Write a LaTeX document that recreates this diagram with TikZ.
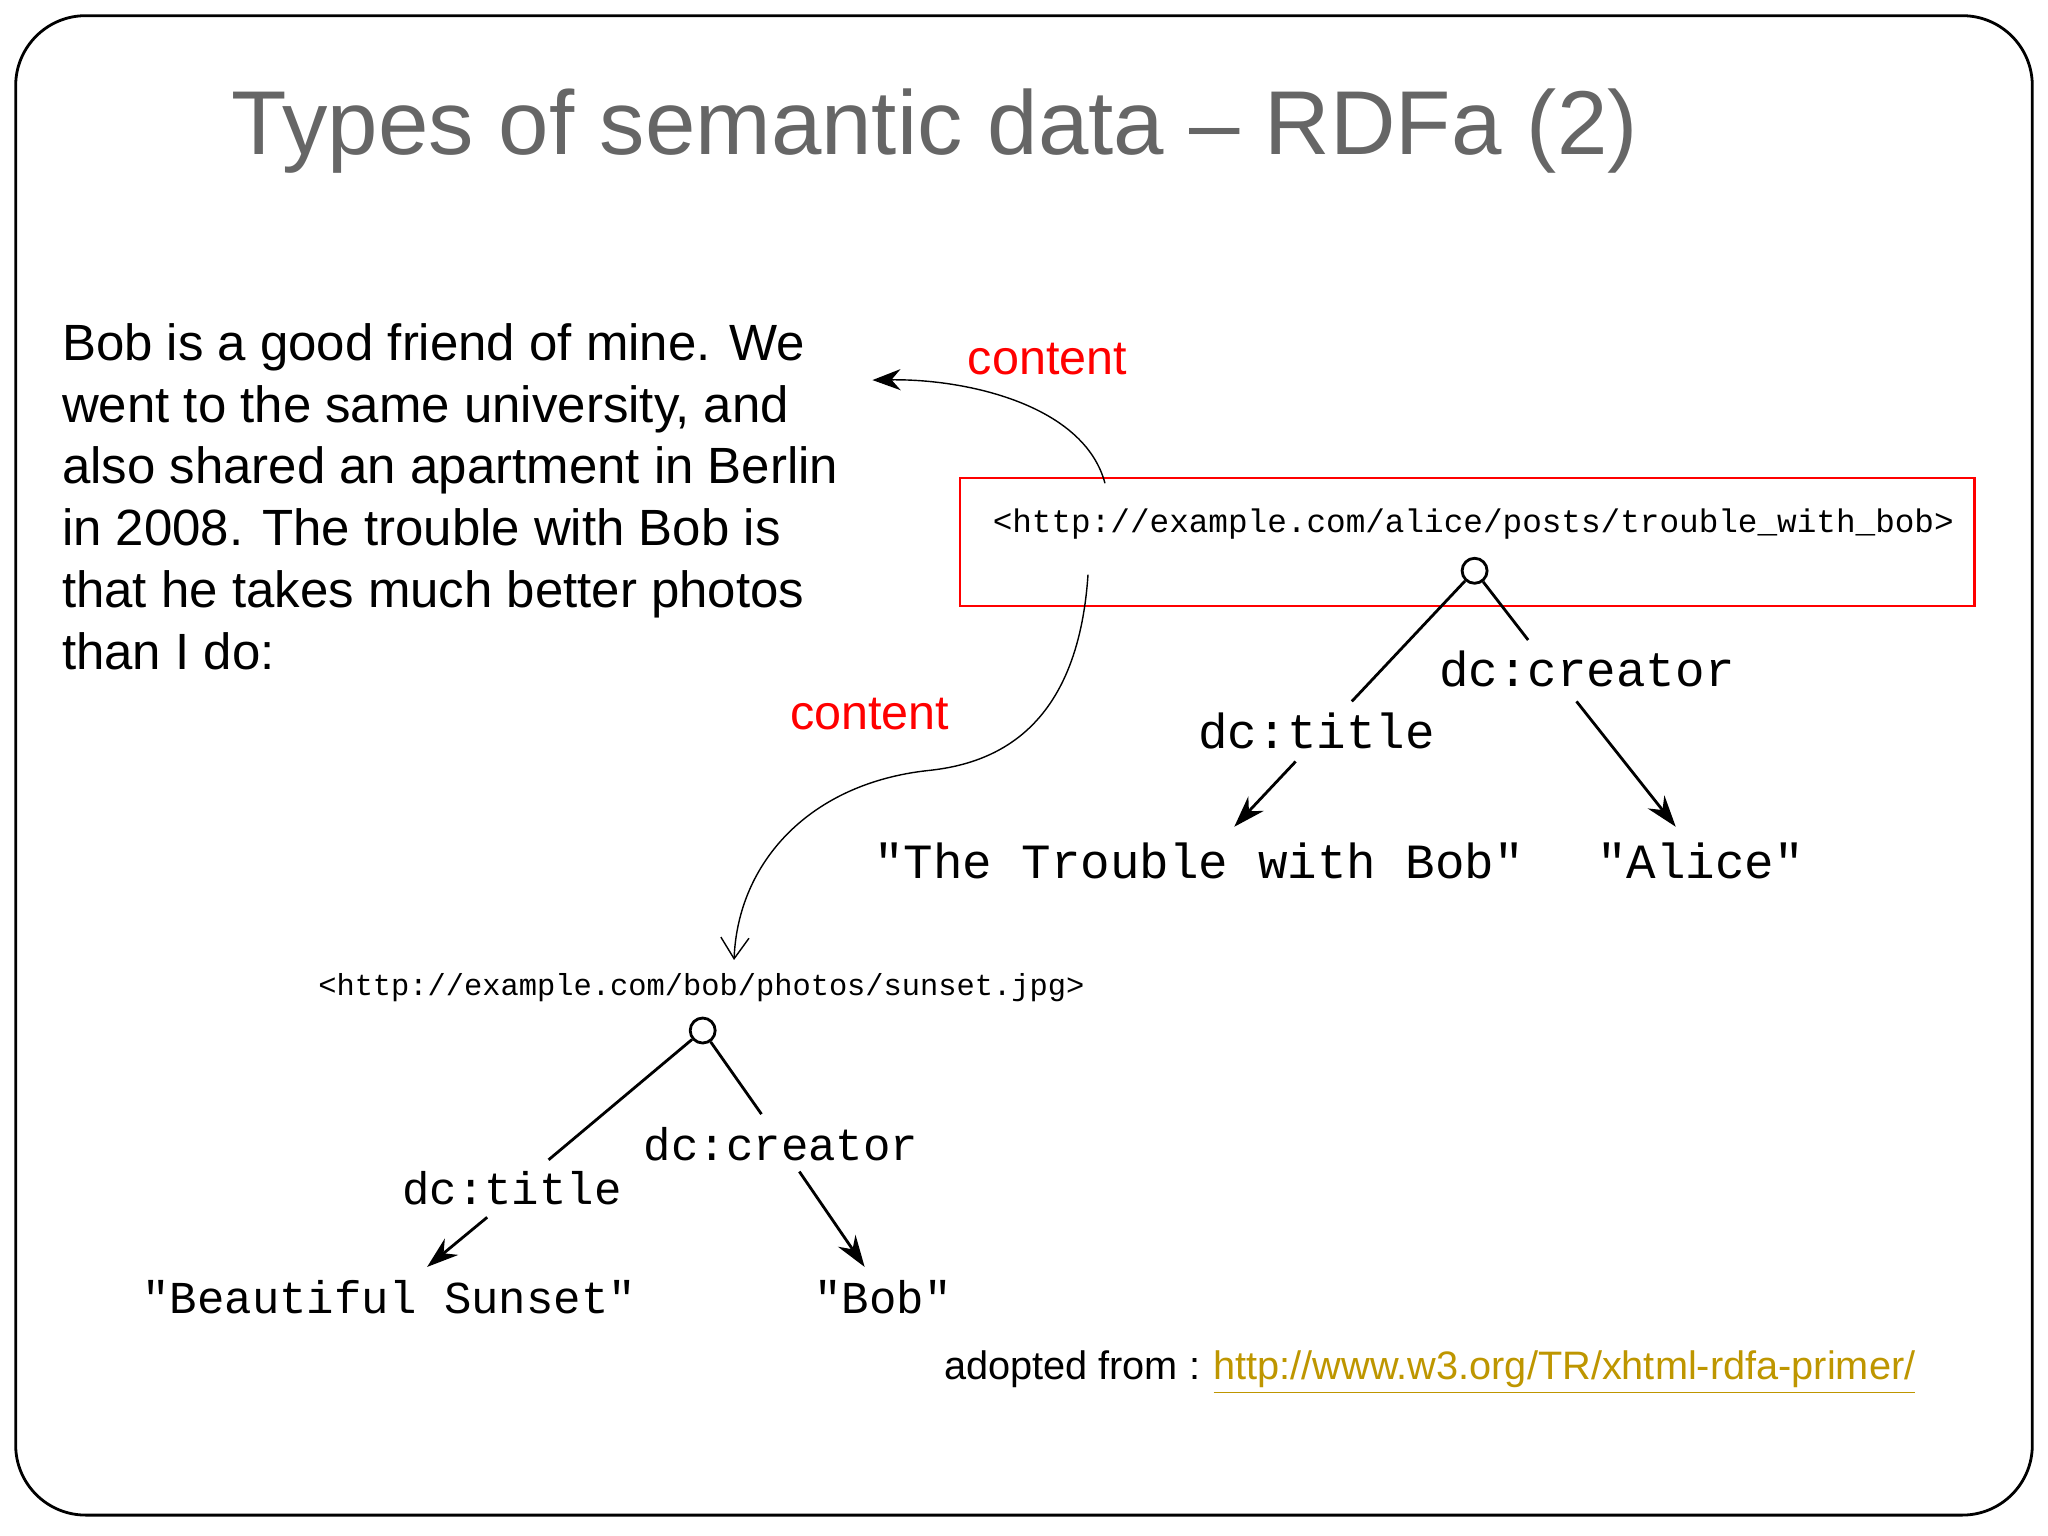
\documentclass[tikz,border=0pt]{standalone}
\usepackage{fontspec}
\setmainfont{Liberation Sans}
\newfontfamily\monofont{Liberation Mono}
\usetikzlibrary{arrows.meta}
\definecolor{linkc}{RGB}{190,150,0}
\begin{document}
\begin{tikzpicture}[x=0.013061cm,y=-0.013061cm,
  lit/.style={font=\monofont\fontsize{14}{16}\selectfont},
  litb/.style={font=\monofont\fontsize{13}{15}\selectfont},
  prop/.style={font=\monofont\fontsize{14}{16}\selectfont},
  propb/.style={font=\monofont\fontsize{13}{15}\selectfont},
  uri/.style={font=\monofont\fontsize{9.3}{11}\selectfont},
  urib/.style={font=\monofont\fontsize{8.65}{10}\selectfont},
  red/.style={text=red,font=\fontsize{13.8}{16}\selectfont},
  arr/.style={-{Stealth[length=9pt,width=6pt]},thick},
  ln/.style={thick},
  bn/.style={circle,draw,thick,fill=white,minimum size=0.25cm,inner sep=0pt}]
\useasboundingbox (0,0) rectangle (1568,1176);
\draw[thick,rounded corners=0.7cm] (12,12) rectangle (1556,1160);
\node[anchor=west,text=black!60,font=\fontsize{25.8}{30}\selectfont] (title) at (168,100) {Types of semantic data – RDFa (2)};
\node[anchor=north west,align=left,inner sep=0pt,font=\fontsize{14.5}{17.6}\selectfont] (para) at (47,247)
 {Bob is a good friend of mine. We\\went to the same university, and\\also shared an apartment in Berlin\\in 2008. The trouble with Bob is\\that he takes much better photos\\than I do:};
\node[red] (c1) at (802,275) {content};
\node[red] (c2) at (666,547) {content};
\node[draw=red,thick,minimum width=777*0.013061cm,minimum height=98*0.013061cm] (box) at (1123.5,415) {};
\node[uri] (u1) at (1128,401) {<http://example.com/alice/posts/trouble\_with\_bob>};
\node[bn] (n1) at (1129,437) {};
\node[prop] (p1c) at (1215,512) {dc:creator};
\node[prop] (p1t) at (1008,560) {dc:title};
\node[lit] (l1t) at (918,659) {"The Trouble with Bob"};
\node[lit] (l1a) at (1302,659) {"Alice"};
\coordinate (a1) at (1035,537); \coordinate (a2) at (1170,490);
\coordinate (a3) at (992,583); \coordinate (a4) at (945,633);
\coordinate (a5) at (1207,537); \coordinate (a6) at (1283,633);
\draw[ln] (n1) -- (a1); \draw[ln] (n1) -- (a2);
\draw[arr] (a3) -- (a4); \draw[arr] (a5) -- (a6);
\coordinate (s1) at (846,370); \coordinate (e1) at (668,291);
\draw[-{Stealth[length=8pt,width=6pt]}] (s1) .. controls (830,310) and (740,290) .. (e1);
\coordinate (s2) at (833,440); \coordinate (m2) at (710,590); \coordinate (e2) at (562,735);
\draw[-{Straight Barb[length=6pt,width=8pt]}] (s2) .. controls (825,560) and (760,585) .. (m2) .. controls (620,600) and (565,660) .. (e2);
\node[urib] (u2) at (537,756) {<http://example.com/bob/photos/sunset.jpg>};
\node[bn] (n2) at (538,789) {};
\node[propb] (p2c) at (598,876) {dc:creator};
\node[propb] (p2t) at (392,910) {dc:title};
\node[litb] (l2t) at (298,993) {"Beautiful Sunset"};
\node[litb] (l2b) at (676,993) {"Bob"};
\coordinate (b1) at (420,888); \coordinate (b2) at (583,853);
\coordinate (b3) at (373,932); \coordinate (b4) at (327,970);
\coordinate (b5) at (612,897); \coordinate (b6) at (662,970);
\draw[ln] (n2) -- (b1); \draw[ln] (n2) -- (b2);
\draw[arr] (b3) -- (b4); \draw[arr] (b5) -- (b6);
\node[anchor=base east,inner sep=0pt,font=\fontsize{11.3}{13}\selectfont] (link) at (1467,1056) {\textcolor{linkc}{\underline{http://www.w3.org/TR/xhtml-rdfa-primer/}}};
\node[anchor=base east,inner sep=0pt,font=\fontsize{11.3}{13}\selectfont] (adopt) at ([xshift=-0.12cm]link.base west) {adopted from :};
\end{tikzpicture}
\end{document}
